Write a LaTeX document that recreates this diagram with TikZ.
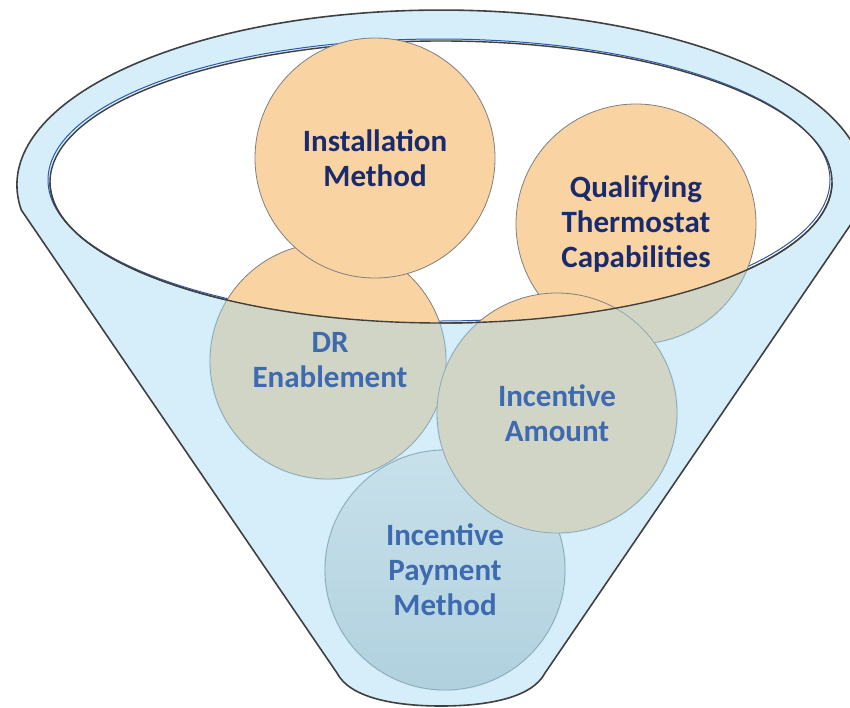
\documentclass[tikz,border=0pt]{standalone}
\usepackage{fontspec}
\setmainfont{Carlito}
\definecolor{trichter}{RGB}{213,238,250}
\definecolor{glas}{RGB}{162,217,244}
\definecolor{rand}{RGB}{64,64,64}
\definecolor{linie}{RGB}{46,90,165}
\definecolor{kugelfarbe}{RGB}{249,211,161}
\definecolor{dunkelblau}{RGB}{26,43,109}
\definecolor{mittelblau}{RGB}{62,106,176}
\begin{document}
\begin{tikzpicture}[x=1pt, y=-1pt,
  kugel/.style={circle, draw=gray, line width=0.8pt, fill=kugelfarbe, minimum size=240pt, inner sep=0pt},
  schrift/.style={font=\bfseries\fontsize{31}{35}\selectfont, align=center},
  trichterweg/.style={insert path={(21.3,210) arc[x radius=424, y radius=175, start angle=171.8, end angle=368.2]
    -- (545,673) .. controls (532,698) and (487,706) .. (441,706) .. controls (395,706) and (350,698) .. (337,673) -- cycle}}]
\useasboundingbox (0,0) rectangle (850,707);
\clip (0,0) rectangle (850,707);
% Trichter (hinten)
\fill[trichter, trichterweg];
\fill[white] (441,182) ellipse[x radius=391, y radius=141];
\draw[linie, line width=1pt] (439,180) ellipse[x radius=391, y radius=141];
\draw[rand, line width=1.4pt] (441,182) ellipse[x radius=391, y radius=141];
% Kreise
\node[kugel] (qual) at (636,224) {};
\node[kugel, top color={rgb,255:red,232;green,232;blue,228}, bottom color={rgb,255:red,190;green,203;blue,206}] (zahlweg) at (445,570) {};
\node[kugel, minimum size=236pt] (dr) at (328,361) {};
\node[kugel] (betrag) at (557,413) {};
\node[kugel] (install) at (375,158) {};
% Trichter (vorne), nur ueber den Kreisen
\begin{scope}
\clip (0,182) rectangle (850,707);
\clip (qual) circle[radius=121] (zahlweg) circle[radius=121] (dr) circle[radius=119]
  (betrag) circle[radius=121] (install) circle[radius=121];
\fill[glas, fill opacity=0.45, even odd rule, trichterweg] (441,182) ellipse[x radius=391, y radius=141];
\end{scope}
\draw[rand, line width=1.4pt] (50,182) arc[x radius=391, y radius=141, start angle=180, end angle=0];
\draw[rand, line width=1.6pt, trichterweg];
% Beschriftung
\node[schrift, dunkelblau] (install-txt) at (install) {Installation\\Method};
\node[schrift, dunkelblau] (qual-txt) at (qual) {Qualifying\\Thermostat\\Capabilities};
\node[schrift, mittelblau] (dr-txt) at (330,360) {DR\\Enablement};
\node[schrift, mittelblau] (betrag-txt) at (betrag) {Incentive\\Amount};
\node[schrift, mittelblau] (zahlweg-txt) at (zahlweg) {Incentive\\Payment\\Method};
\end{tikzpicture}
\end{document}
